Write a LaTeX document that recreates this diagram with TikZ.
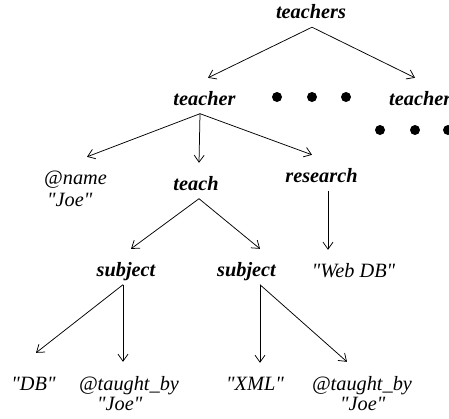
\documentclass[tikz,border=0pt]{standalone}
\usepackage{fontspec}
\setmainfont{Liberation Serif}[Ligatures=TeXOff]
\usetikzlibrary{arrows.meta}
\begin{document}
\begin{tikzpicture}[x=1pt,y=-1pt,
  lbl/.style={inner xsep=0pt,inner ysep=8.5pt,text height=18.5pt,text depth=0pt,
    font=\fontsize{20.3}{23}\selectfont\itshape},
  elem/.style={lbl,font=\fontsize{20.3}{23}\selectfont\bfseries\itshape},
  arr/.style={line width=0.75pt,-{Straight Barb[length=7pt,width=10pt]}},
  dot/.style={fill=black}]
\useasboundingbox (0,0) rectangle (449,418);
\clip (0,0) rectangle (449,418);
% nodes
\node[elem,anchor=base] (teachers) at (311,18.5) {teachers};
\node[elem,anchor=base] (teacherL) at (204.5,105) {teacher};
\node[elem,anchor=base west] (teacherR) at (389,105) {teacher};
\node[lbl,anchor=base west] (name) at (44,184) {@name};
\node[lbl,anchor=base west] (joeA) at (47,206) {"Joe"};
\node[elem,anchor=base] (teach) at (196,190) {teach};
\node[elem,anchor=base] (research) at (321.5,182) {research};
\node[lbl,anchor=base] (webdb) at (353.5,277) {"Web DB"};
\node[elem,anchor=base] (subjL) at (126,276) {subject};
\node[elem,anchor=base] (subjR) at (246.5,276) {subject};
\node[lbl,anchor=base] (db) at (33.5,390) {"DB"};
\node[lbl,anchor=base] (taughtL) at (129,390) {@taught\_by};
\node[lbl,anchor=base west] (joeL) at (97,410) {"Joe"};
\node[lbl,anchor=base] (xml) at (255,390) {"XML"};
\node[lbl,anchor=base] (taughtR) at (362,390) {@taught\_by};
\node[lbl,anchor=base west] (joeR) at (340,410) {"Joe"};
% dots
\foreach \x in {277,312,346} \fill[dot] (\x,97) circle (5);
\foreach \x in {380,415,448} \fill[dot] (\x,130) circle (5);
% connectors
\draw[arr] ([xshift=1]teachers.south) -- ([xshift=3.5]teacherL.north);
\draw[arr] ([xshift=1]teachers.south) -- ([xshift=26]teacherR.north west);
\draw[arr] ([xshift=-4.5]teacherL.south) -- ([xshift=43]name.north west);
\draw[arr] ([xshift=-4.5]teacherL.south) -- ([xshift=3]teach.north);
\draw[arr] ([xshift=-4.5]teacherL.south) -- ([xshift=-9.5]research.north);
\draw[arr] ([xshift=6.5]research.south) -- ([xshift=-25.5]webdb.north);
\draw[arr] ([xshift=3]teach.south) -- ([xshift=5]subjL.north);
\draw[arr] ([xshift=3]teach.south) -- ([xshift=13.5]subjR.north);
\draw[arr] ([xshift=-3]subjL.south) -- ([xshift=2.5,yshift=10]db.north);
\draw[arr] ([xshift=-3]subjL.south) -- ([xshift=-6,yshift=1]taughtL.north);
\draw[arr] ([xshift=13.5]subjR.south) -- ([xshift=5]xml.north);
\draw[arr] ([xshift=13.5]subjR.south) -- ([xshift=-15,yshift=1]taughtR.north);
\end{tikzpicture}
\end{document}
